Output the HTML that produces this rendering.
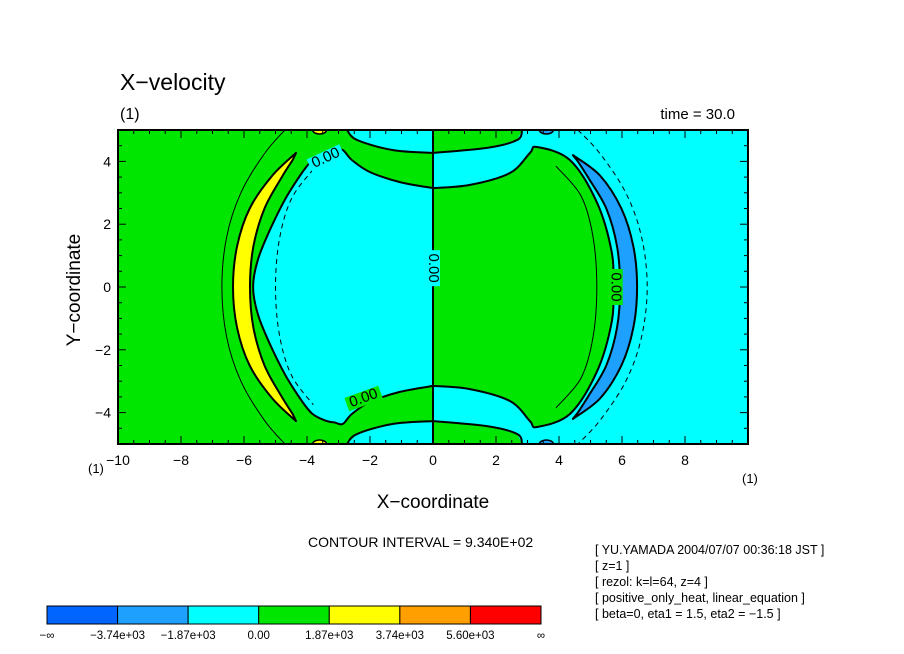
<!DOCTYPE html>
<html><head><meta charset="utf-8"><style>
body{margin:0;background:#fff;}
svg{display:block;font-family:"Liberation Sans",sans-serif;}
</style></head><body>
<svg id="chart" width="904" height="654" viewBox="0 0 904 654">
<defs><clipPath id="pc"><rect x="118" y="130" width="630" height="314"/></clipPath></defs>
<rect x="0" y="0" width="904" height="654" fill="#fff"/>
<g id="plot" clip-path="url(#pc)"></g>
<g id="axes"></g>
<text x="120" y="90" font-size="23">X−velocity</text>
<text x="120" y="119" font-size="16">(1)</text>
<text x="735" y="119" font-size="15" text-anchor="end">time = 30.0</text>
<text x="80" y="290" font-size="19" text-anchor="middle" transform="rotate(-90 80 290)">Y−coordinate</text>
<text x="433" y="508" font-size="19" text-anchor="middle">X−coordinate</text>
<text x="88" y="473" font-size="13">(1)</text>
<text x="742" y="483" font-size="13">(1)</text>
<text x="308" y="547" font-size="14">CONTOUR INTERVAL = 9.340E+02</text>
<g font-size="12.5">
<text x="595" y="554">[ YU.YAMADA 2004/07/07 00:36:18 JST ]</text>
<text x="595" y="570">[ z=1 ]</text>
<text x="595" y="586">[ rezol: k=l=64, z=4 ]</text>
<text x="595" y="602">[ positive_only_heat, linear_equation ]</text>
<text x="595" y="618">[ beta=0, eta1 = 1.5, eta2 = −1.5 ]</text>
</g>
<g id="legend"></g>
</svg>
<script>
const NS='http://www.w3.org/2000/svg';
const xTicks=[-10,-8,-6,-4,-2,0,2,4,6,8];
const yTicks=[-4,-2,0,2,4];
const legendColors=['#0064ff','#1ea0ff','#00ffff','#00e600','#ffff00','#ffa000','#ff0000'];
const legendLabels=['−∞','−3.74e+03','−1.87e+03','0.00','1.87e+03','3.74e+03','5.60e+03','∞'];
// contour regions (upper half starting at y=0, mirrored in y)
const leftLensX=[-5.71,-5.56,-5.17,-4.70,-4.22,-3.84,-3.43,-3.11,-2.86,-2.57,-2.0,-1.05,0];
const leftLensY=[0,0.87,1.83,2.78,3.55,4.03,4.25,4.32,4.36,4.04,3.66,3.34,3.15];
const rightLensX=[5.71,5.68,5.21,4.35,3.30,3.08,2.44,1.17,0];
const rightLensY=[0,1.08,2.68,4.04,4.46,4.27,3.63,3.25,3.15];
const leftBandX=[-2.73,-2.41,-1.27,0,0];
const leftBandY=[5,4.68,4.36,4.27,5];
const rightBandX=[0,1.71,2.67,2.83,0];
const rightBandY=[4.27,4.43,4.68,5,5];
const yellowOuterX=[-6.35,-6.22,-5.82,-5.1,-4.35];
const yellowOuterY=[0,1.3,2.5,3.55,4.27];
const yellowInnerX=[-5.81,-5.70,-5.35,-4.80,-4.45];
const yellowInnerY=[0,1.3,2.5,3.5,4.05];
const blueOuterX=[6.48,6.36,5.98,5.3,4.44];
const blueOuterY=[0,1.3,2.5,3.55,4.2];
const blueInnerX=[5.94,5.84,5.50,4.95,4.6];
const blueInnerY=[0,1.3,2.5,3.45,4.0];
const thinLeftX=[-6.7,-6.55,-6.1,-5.35,-4.7];
const thinLeftY=[0,1.6,3.0,4.25,5];
const dashLeftX=[-5.0,-4.88,-4.5,-3.8];
const dashLeftY=[0,1.5,2.8,3.75];
const thinRightX=[5.2,5.08,4.7,3.9];
const thinRightY=[0,1.6,2.9,3.85];
const dashRightX=[6.8,6.62,6.12,5.3,4.6];
const dashRightY=[0,1.6,3.0,4.25,5];

const sx=x=>118+(x+10)*31.5;
const sy=y=>287-y*31.4;
const plot=document.getElementById('plot');
const axes=document.getElementById('axes');
function mk(tag,attrs,parent){const e=document.createElementNS(NS,tag);for(const k in attrs)e.setAttribute(k,attrs[k]);parent.appendChild(e);return e;}
function mirrorPts(X,Y){const up=X.map((x,i)=>[x,Y[i]]).reverse();const dn=X.map((x,i)=>[x,-Y[i]]);return up.concat(dn.slice(1));}
function ptsStr(p){return p.map(q=>sx(q[0]).toFixed(1)+','+sy(q[1]).toFixed(1)).join(' ');}
function smooth(p,closed){
  const P=p.map(q=>[sx(q[0]),sy(q[1])]);
  let d='M'+P[0][0].toFixed(1)+','+P[0][1].toFixed(1);
  const n=P.length;
  for(let i=0;i<n-1;i++){
    const p0=P[i>0?i-1:i],p1=P[i],p2=P[i+1],p3=P[i+2<n?i+2:i+1];
    const c1=[p1[0]+(p2[0]-p0[0])/6,p1[1]+(p2[1]-p0[1])/6];
    const c2=[p2[0]-(p3[0]-p1[0])/6,p2[1]-(p3[1]-p1[1])/6];
    d+=` C${c1[0].toFixed(1)},${c1[1].toFixed(1)} ${c2[0].toFixed(1)},${c2[1].toFixed(1)} ${p2[0].toFixed(1)},${p2[1].toFixed(1)}`;
  }
  if(closed)d+='Z';
  return d;
}

let e=mk('rect',{x:sx(-10),y:sy(5),width:sx(0)-sx(-10),height:sy(-5)-sy(5),fill:'#00e600'},plot);


e=mk('rect',{x:sx(0),y:sy(5),width:sx(10)-sx(0),height:sy(-5)-sy(5),fill:'#00ffff'},plot);



function region(X,Y,fill,name){
  const p=mirrorPts(X,Y);
  const el=mk('path',{d:smooth(p,true),fill:fill,stroke:'#000','stroke-width':2,'stroke-linejoin':'round'},plot);
  
  
}
region(leftLensX,leftLensY,'#00ffff','cyan-lens-left');
region(rightLensX,rightLensY,'#00e600','green-lens-right');
function band(X,Y,fill,name){
  [1,-1].forEach(s=>{
    const p=X.map((x,i)=>[x,s*Y[i]]);
    const el=mk('polygon',{points:ptsStr(p),fill:fill,stroke:'none'},plot);
    
    
    const l=mk('path',{d:smooth(p.slice(0,X.length-1),false),fill:'none',stroke:'#000','stroke-width':2},plot);
    
    
  });
}
band(leftBandX,leftBandY,'#00ffff','cyan-band-left');
band(rightBandX,rightBandY,'#00e600','green-band-right');
function crescent(OX,OY,IX,IY,fill,name){
  const outer=mirrorPts(OX,OY);
  const inner=mirrorPts(IX,IY).reverse();
  const el=mk('path',{d:smooth(outer,false)+' L'+smooth(inner,false).slice(1)+'Z',fill:fill,stroke:'#000','stroke-width':2,'stroke-linejoin':'round'},plot);
  
  
}
crescent(yellowOuterX,yellowOuterY,yellowInnerX,yellowInnerY,'#ffff00','yellow-crescent');
crescent(blueOuterX,blueOuterY,blueInnerX,blueInnerY,'#1ea0ff','blue-crescent');
function line(X,Y,dash,name){
  const el=mk('path',{d:smooth(mirrorPts(X,Y),false),fill:'none',stroke:'#000','stroke-width':1,'stroke-dasharray':dash||'none'},plot);
  
  
}
line(thinLeftX,thinLeftY,null,'contour-thin-left');
line(dashLeftX,dashLeftY,'5,4','contour-dashed-left');
line(thinRightX,thinRightY,null,'contour-thin-right');
line(dashRightX,dashRightY,'5,4','contour-dashed-right');
[[-3.6,'#ffff00'],[3.6,'#1ea0ff']].forEach(([x,c])=>{[5,-5].forEach(y=>{
  const b=mk('ellipse',{cx:sx(x),cy:sy(y),rx:7,ry:4,fill:c,stroke:'#000','stroke-width':1.5},plot);
  
  
});});
e=mk('line',{x1:sx(0),y1:sy(5),x2:sx(0),y2:sy(-5),stroke:'#000','stroke-width':2},plot);


function lab(x,y,rot,name){
  const t=mk('text',{x:sx(x),y:sy(y),'font-size':15,'text-anchor':'middle','dominant-baseline':'middle',transform:`rotate(${rot} ${sx(x)} ${sy(y)})`},plot);
  t.textContent='0.00';
  
  
}
[[0,0.6,90,'#00ffff'],[-3.4,4.1,-25,'#00ffff'],[-2.2,-3.55,-20,'#00e600'],[5.8,0,90,'#00e600']].forEach((a,i)=>{
  const [x,y,r,c]=a;
  const bg=mk('rect',{x:sx(x)-18,y:sy(y)-7,width:36,height:14,fill:c,transform:`rotate(${r} ${sx(x)} ${sy(y)})`},plot);
  
  
  lab(x,y,r,'contour-label-'+i);
});

e=mk('rect',{x:sx(-10),y:sy(5),width:sx(10)-sx(-10),height:sy(-5)-sy(5),fill:'none',stroke:'#000','stroke-width':2},axes);


for(let v=-10;v<=10.001;v+=0.5){
  const major=Math.abs(v%2)<1e-6, len=major?8:4;
  mk('line',{x1:sx(v),y1:sy(-5),x2:sx(v),y2:sy(-5)-len,stroke:'#000','stroke-width':1},axes);
  mk('line',{x1:sx(v),y1:sy(5),x2:sx(v),y2:sy(5)+len,stroke:'#000','stroke-width':1},axes);
}
for(let v=-5;v<=5.001;v+=0.5){
  const major=Math.abs(v%2)<1e-6, len=major?8:4;
  mk('line',{x1:sx(-10),y1:sy(v),x2:sx(-10)+len,y2:sy(v),stroke:'#000','stroke-width':1},axes);
  mk('line',{x1:sx(10),y1:sy(v),x2:sx(10)-len,y2:sy(v),stroke:'#000','stroke-width':1},axes);
}
xTicks.forEach(v=>{
  const t=mk('text',{x:sx(v),y:sy(-5)+21,'font-size':14,'text-anchor':'middle'},axes);
  t.textContent=v<0?'−'+(-v):String(v);
  
  
});
yTicks.forEach(v=>{
  const t=mk('text',{x:sx(-10)-7,y:sy(v)+5,'font-size':14,'text-anchor':'end'},axes);
  t.textContent=v<0?'−'+(-v):String(v);
  
  
});
const lg=document.getElementById('legend');
const lx0=47,lw=(541-47)/legendColors.length;
legendColors.forEach((c,i)=>{
  const r=mk('rect',{x:lx0+i*lw,y:606,width:lw,height:18,fill:c,stroke:'#000','stroke-width':1},lg);
  
  
});
legendLabels.forEach((s,i)=>{
  const t=mk('text',{x:lx0+i*lw,y:639,'font-size':11.5,'text-anchor':'middle'},lg);
  t.textContent=s;
  
  
});
</script>
</body></html>
